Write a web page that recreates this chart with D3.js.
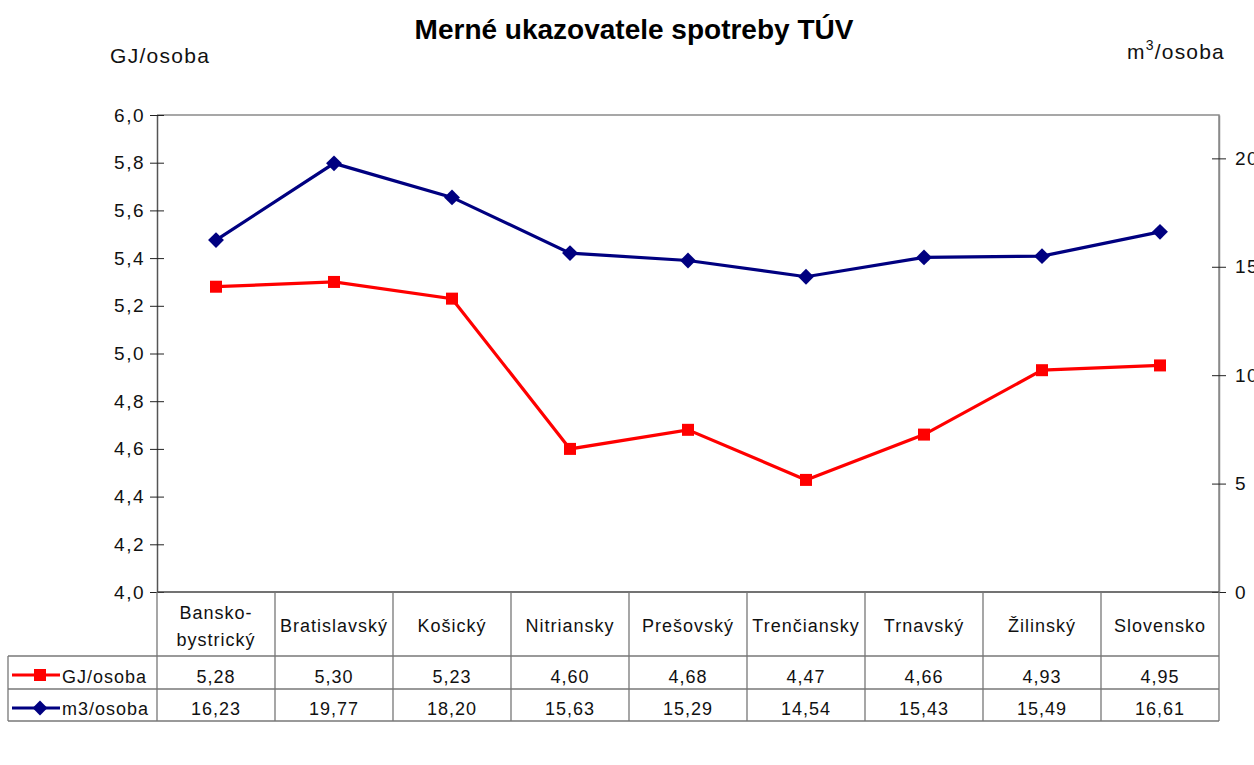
<!DOCTYPE html>
<html>
<head>
<meta charset="utf-8">
<script src="https://cdn.jsdelivr.net/npm/d3@7"></script>
<style>
  body { margin: 0; background: #fff; }
  svg { font-family: "Liberation Sans", Arial, sans-serif; display: block; }
</style>
</head>
<body>
<div id="chart"></div>
<script>
// data
var regions = ["Bansko-\nbystrický", "Bratislavský", "Košický", "Nitriansky", "Prešovský",
               "Trenčiansky", "Trnavský", "Žilinský", "Slovensko"]
var gjPerPerson = [5.28, 5.30, 5.23, 4.60, 4.68, 4.47, 4.66, 4.93, 4.95]
var m3PerPerson = [16.23, 19.77, 18.20, 15.63, 15.29, 14.54, 15.43, 15.49, 16.61]
var leftTicks = [4.0, 4.2, 4.4, 4.6, 4.8, 5.0, 5.2, 5.4, 5.6, 5.8, 6.0]
var rightTicks = [0, 5, 10, 15, 20]

var width = 1254
var height = 765
var plot = { left: 157, right: 1219, top: 115, bottom: 592 }

var svg = d3.select("#chart")
    .append("svg")
    .attr("width", width)
    .attr("height", height)

var comma = function(v, digits) { return v.toFixed(digits).replace(".", ",") }

// scales
var x = d3.scaleBand()
    .domain(d3.range(regions.length))
    .range([plot.left, plot.right])
var yL = d3.scaleLinear().domain([4, 6]).range([plot.bottom, plot.top])
var yR = d3.scaleLinear().domain([0, 22]).range([plot.bottom, plot.top])
var cx = function(i) { return x(i) + x.bandwidth() / 2 }

// title + unit labels
svg.append("text")
    .attr("x", 634).attr("y", 39)
    .attr("text-anchor", "middle")
    .style("font-size", "28px").style("font-weight", "bold")
    .text("Merné ukazovatele spotreby TÚV")

svg.append("text")
    .attr("x", 110).attr("y", 63)
    .style("font-size", "21px").style("letter-spacing", "1.3px").style("fill", "#111")
    .text("GJ/osoba")

var unitR = svg.append("text")
    .attr("x", 1225).attr("y", 59)
    .attr("text-anchor", "end")
    .style("font-size", "21px").style("letter-spacing", "1.2px").style("fill", "#111")
unitR.append("tspan").text("m")
unitR.append("tspan").attr("dy", -9).style("font-size", "14px").text("3")
unitR.append("tspan").attr("dy", 9).text("/osoba")

// plot frame (top and right edges)
svg.append("path")
    .attr("d", "M" + plot.left + "," + plot.top + "H" + plot.right + "V" + plot.bottom)
    .attr("fill", "none").attr("stroke", "#8a8a8a").attr("stroke-width", 1.5)

// left axis
var gL = svg.append("g")
    .attr("transform", "translate(" + plot.left + ",0)")
    .call(d3.axisLeft(yL).tickValues(leftTicks).tickSize(7).tickSizeOuter(0)
        .tickFormat(function(d) { return comma(d, 1) }))
gL.select(".domain").attr("stroke", "#555").attr("stroke-width", 1.5)
gL.selectAll(".tick line").attr("x1", 7).attr("stroke", "#222")
gL.selectAll(".tick text")
    .attr("x", -12)
    .style("font-size", "19px").style("letter-spacing", "1.5px")
    .style("font-family", "Liberation Sans, Arial, sans-serif")
    .attr("fill", "#111")

// right axis
var gR = svg.append("g")
    .attr("transform", "translate(" + plot.right + ",0)")
    .call(d3.axisRight(yR).tickValues(rightTicks).tickSize(7).tickSizeOuter(0))
gR.select(".domain").attr("stroke", "#8a8a8a").attr("stroke-width", 1.5)
gR.selectAll(".tick line").attr("x1", -7).attr("stroke", "#222")
gR.selectAll(".tick text")
    .attr("x", 16)
    .style("font-size", "19px").style("letter-spacing", "1.5px")
    .style("font-family", "Liberation Sans, Arial, sans-serif")
    .attr("fill", "#111")

// lines
var lineL = d3.line().x(function(d, i) { return cx(i) }).y(function(d) { return yL(d) })
var lineR = d3.line().x(function(d, i) { return cx(i) }).y(function(d) { return yR(d) })

svg.append("path").datum(m3PerPerson)
    .attr("d", lineR).attr("fill", "none")
    .attr("stroke", "#000080").attr("stroke-width", 3.2)
svg.append("path").datum(gjPerPerson)
    .attr("d", lineL).attr("fill", "none")
    .attr("stroke", "#ff0000").attr("stroke-width", 3.2)

var diamond = d3.symbol().type(d3.symbolDiamond2).size(160)
svg.selectAll(".m3").data(m3PerPerson).enter()
    .append("path")
    .attr("d", diamond)
    .attr("transform", function(d, i) { return "translate(" + cx(i) + "," + yR(d) + ")" })
    .attr("fill", "#000080")

svg.selectAll(".gj").data(gjPerPerson).enter()
    .append("rect")
    .attr("x", function(d, i) { return cx(i) - 6 })
    .attr("y", function(d) { return yL(d) - 6 })
    .attr("width", 12).attr("height", 12)
    .attr("fill", "#ff0000")

// data table below the plot
var tbl = { left: 8, catBottom: 656, row1: 689, row2: 721 }
var grid = svg.append("g").attr("stroke", "#777").attr("stroke-width", 1.3)
grid.append("line").attr("x1", plot.left).attr("x2", plot.right)
    .attr("y1", plot.bottom).attr("y2", plot.bottom).attr("stroke", "#444")
;[tbl.catBottom, tbl.row1, tbl.row2].forEach(function(yy) {
    grid.append("line").attr("x1", tbl.left).attr("x2", plot.right).attr("y1", yy).attr("y2", yy)
})
grid.append("line").attr("x1", tbl.left).attr("x2", tbl.left)
    .attr("y1", tbl.catBottom).attr("y2", tbl.row2)
d3.range(regions.length + 1).forEach(function(i) {
    var xx = i < regions.length ? x(i) : plot.right
    grid.append("line").attr("x1", xx).attr("x2", xx)
        .attr("y1", plot.bottom).attr("y2", tbl.row2)
})

var cells = svg.append("g")
    .style("font-size", "18px").style("letter-spacing", "1px")
    .attr("fill", "#111")
    .attr("text-anchor", "middle")
regions.forEach(function(r, i) {
    var parts = r.split("\n")
    var t = cells.append("text").attr("x", cx(i))
    if (parts.length == 1) {
        t.attr("y", 632).text(r)
    } else {
        t.attr("y", 619)
        parts.forEach(function(p, k) {
            t.append("tspan").attr("x", cx(i)).attr("dy", k == 0 ? 0 : 27).text(p)
        })
    }
})
gjPerPerson.forEach(function(v, i) {
    cells.append("text").attr("x", cx(i)).attr("y", 683).text(comma(v, 2))
})
m3PerPerson.forEach(function(v, i) {
    cells.append("text").attr("x", cx(i)).attr("y", 715).text(comma(v, 2))
})

// legend keys inside the table
var keyG = svg.append("g")
keyG.append("line").attr("x1", 12).attr("x2", 60).attr("y1", 675).attr("y2", 675)
    .attr("stroke", "#ff0000").attr("stroke-width", 3.2)
keyG.append("rect").attr("x", 34).attr("y", 669).attr("width", 12).attr("height", 12)
    .attr("fill", "#ff0000")
keyG.append("line").attr("x1", 12).attr("x2", 60).attr("y1", 708).attr("y2", 708)
    .attr("stroke", "#000080").attr("stroke-width", 3.2)
keyG.append("path").attr("d", d3.symbol().type(d3.symbolDiamond2).size(140))
    .attr("transform", "translate(40,708)").attr("fill", "#000080")
keyG.append("text").attr("x", 62).attr("y", 683)
    .style("font-size", "18px").style("letter-spacing", "1px").attr("fill", "#111").text("GJ/osoba")
keyG.append("text").attr("x", 62).attr("y", 715)
    .style("font-size", "18px").style("letter-spacing", "1px").attr("fill", "#111").text("m3/osoba")
</script>
</body>
</html>
